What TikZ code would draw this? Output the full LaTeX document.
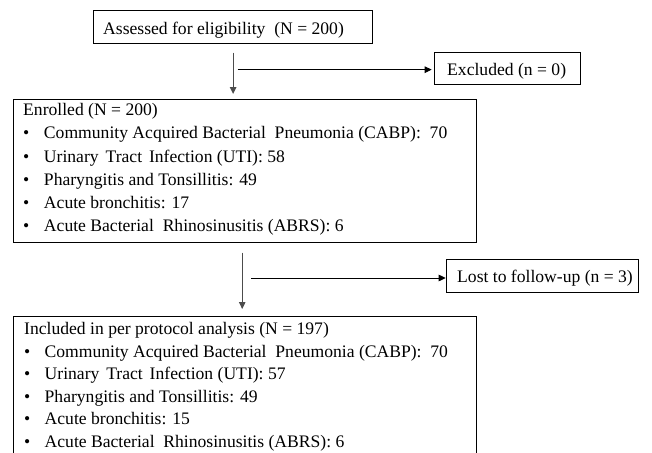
\documentclass[tikz,border=0pt]{standalone}
\usepackage{fontspec}
\setmainfont{Liberation Serif}
\usetikzlibrary{arrows.meta}
\begin{document}
\begin{tikzpicture}[x=1pt,y=-1pt,
  every node/.style={font=\fontsize{17.6pt}{23.2pt}\selectfont, text=black},
  sbox/.style={draw=black, line width=1pt, inner ysep=0pt, text height=13.8pt, text depth=0pt, anchor=north west},
  lbox/.style={draw=black, line width=1pt, anchor=north west, align=left},
  varr/.style={draw=black!70, line width=1.1pt, -{Triangle[length=7pt,width=6.5pt]}},
  harr/.style={draw=black, line width=0.9pt, -{Triangle[length=7pt,width=6.5pt]}}]
\useasboundingbox (0,0) rectangle (652,452);

\node[sbox, minimum width=278.7pt, minimum height=33.3pt, inner xsep=9.4pt] (assess) at (93.3,10)
  {\makebox[259.9pt][l]{Assessed for eligibility\ \ (N = 200)}};
\node[sbox, minimum width=145.7pt, minimum height=31.7pt, inner xsep=12.4pt] (excl) at (434.3,52.3)
  {\makebox[120.9pt][l]{Excluded (n = 0)}};
\node[lbox, inner xsep=10pt, inner ysep=4pt] (enrol) at (12.7,99)
  {\begin{minipage}[t][135pt][t]{443.3pt}\raggedright
  Enrolled (N = 200)\\
  \makebox[20.8pt][l]{•}Community Acquired Bacterial\ \ Pneumonia (CABP):\ \ 70\\
  \makebox[20.8pt][l]{•}Urinary\hspace{2.5pt} Tract\hspace{2.5pt} Infection (UTI): 58\\
  \makebox[20.8pt][l]{•}Pharyngitis and Tonsillitis: 49\\
  \makebox[20.8pt][l]{•}Acute bronchitis: 17\\
  \makebox[20.8pt][l]{•}Acute Bacterial\ \ Rhinosinusitis (ABRS): 6
  \end{minipage}};
\node[sbox, minimum width=192.3pt, minimum height=32.4pt, inner xsep=11pt] (lost) at (445.7,259.3)
  {\makebox[170.3pt][l]{Lost to follow-up (n = 3)}};
\node[lbox, inner xsep=11pt, inner ysep=5.8pt, font=\fontsize{17.6pt}{22.6pt}\selectfont] (incl) at (12.7,316)
  {\begin{minipage}[t][160pt][t]{441.3pt}\raggedright
  Included in per protocol analysis (N = 197)\\
  \makebox[20.5pt][l]{•}Community Acquired Bacterial\ \ Pneumonia (CABP):\ \ 70\\
  \makebox[20.5pt][l]{•}Urinary\hspace{2.5pt} Tract\hspace{2.5pt} Infection (UTI): 57\\
  \makebox[20.5pt][l]{•}Pharyngitis and Tonsillitis: 49\\
  \makebox[20.5pt][l]{•}Acute bronchitis: 15\\
  \makebox[20.5pt][l]{•}Acute Bacterial\ \ Rhinosinusitis (ABRS): 6
  \end{minipage}};

% arrows
\draw[varr, shorten <=8.4pt, shorten >=5pt] (assess.south) -- (assess.south |- enrol.north);
\path (assess.south |- excl.west) ++(4.4,1) coordinate (h1);
\draw[harr, shorten >=2.6pt] (h1) -- (h1 -| excl.west);

\path (enrol.south) ++(-2.65,0) coordinate (v2);
\draw[varr, shorten <=9.7pt, shorten >=7pt] (v2) -- (v2 |- incl.north);
\path (v2 |- lost.west) ++(9,2) coordinate (h2);
\draw[harr] (h2) -- (h2 -| lost.west);
\end{tikzpicture}
\end{document}
